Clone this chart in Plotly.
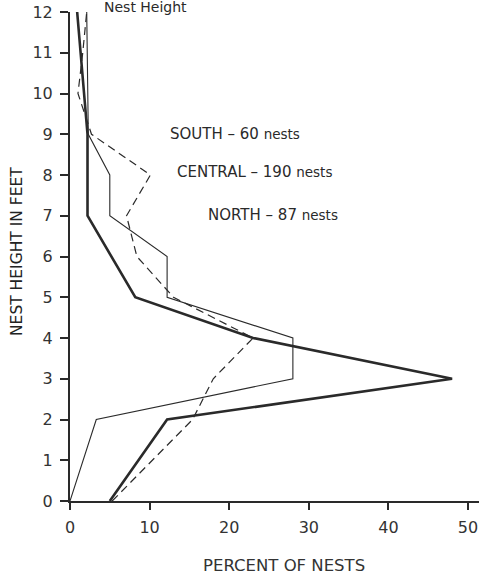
import plotly.graph_objects as go

# Nest height (feet) vs percent of nests
heights_thin = [0, 2, 3, 4, 5, 6, 7, 8, 9, 12]
pct_thin = [0, 3.3, 28, 28, 12.2, 12.2, 5, 5, 2.3, 2.1]

heights_thick = [0, 2, 3, 4, 5, 7, 9, 12]
pct_thick = [5, 12.2, 48, 23, 8.2, 2.2, 2.2, 0.9]

heights_dash = [0, 2, 3, 4, 5, 6, 7, 8, 9, 10, 11, 12]
pct_dash = [5.3, 15.4, 18, 23, 13, 8.4, 7.1, 10.1, 2.7, 1.0, 1.6, 2.1]

x_ticks = [0, 10, 20, 30, 40, 50]
y_ticks = list(range(0, 13))

legend_labels = [
    ("SOUTH – 60 ", "nests", 168, 134),
    ("CENTRAL – 190 ", "nests", 175, 172),
    ("NORTH – 87 ", "nests", 206, 215),
]

INK = "#2a2a2a"
FONT = "'DejaVu Sans', sans-serif"

fig = go.Figure()
fig.add_trace(go.Scatter(x=pct_thin, y=heights_thin, mode="lines",
                         line=dict(color=INK, width=1.1), name="thin"))
fig.add_trace(go.Scatter(x=pct_dash, y=heights_dash, mode="lines",
                         line=dict(color=INK, width=1.2, dash="8px,5px"), name="dashed"))
fig.add_trace(go.Scatter(x=pct_thick, y=heights_thick, mode="lines",
                         line=dict(color=INK, width=2.6), name="thick"))

W, H = 479, 575
L, R, T, B = 70, 0, 12, 74
pw, ph = W - L - R, H - T - B


def px_x(p):
    return (p - L) / pw


def px_y(p):
    return 1 - (p - T) / ph


for main, small, px, py in legend_labels:
    fig.add_annotation(
        x=px_x(px), y=px_y(py), xref="paper", yref="paper",
        xanchor="left", yanchor="middle", showarrow=False,
        text=f"{main}<span style='font-size:13.5px'>{small}</span>",
        font=dict(family=FONT, size=15, color=INK),
    )

fig.add_annotation(
    x=px_x(145), y=px_y(7), xref="paper", yref="paper",
    xanchor="center", yanchor="middle", showarrow=False,
    text="Nest Height", font=dict(family=FONT, size=14, color=INK),
)

fig.add_annotation(
    x=px_x(284), y=px_y(565), xref="paper", yref="paper",
    xanchor="center", yanchor="middle", showarrow=False,
    text="PERCENT OF NESTS", font=dict(family=FONT, size=16.5, color="#333"),
)

fig.add_annotation(
    x=px_x(17), y=px_y(252), xref="paper", yref="paper",
    xanchor="center", yanchor="middle", showarrow=False, textangle=-90,
    text="NEST HEIGHT IN FEET", font=dict(family=FONT, size=15.5, color="#222"),
)

fig.update_layout(
    width=W, height=H,
    margin=dict(l=L, r=R, t=T, b=B, autoexpand=False),
    paper_bgcolor="white", plot_bgcolor="white",
    showlegend=False,
    font=dict(family=FONT, color=INK),
    xaxis=dict(
        range=[0, pw / 7.96], tickvals=x_ticks, ticks="outside", ticklen=7,
        tickcolor=INK, tickwidth=1.5, showgrid=False, zeroline=False,
        showline=True, linecolor=INK, linewidth=2, automargin=False,
        tickfont=dict(size=16, color="#333"), ticklabelstandoff=4,
    ),
    yaxis=dict(
        range=[0, 12], tickvals=y_ticks, ticks="outside", ticklen=8,
        tickcolor=INK, tickwidth=1.5, showgrid=False, zeroline=False,
        showline=True, linecolor=INK, linewidth=2, automargin=False,
        tickfont=dict(size=16, color="#333"), ticklabelstandoff=4,
    ),
)

fig.write_html(
    "out.html",
    config={"displayModeBar": False},
    post_script="document.body.style.margin='0';document.body.style.overflow='hidden';",
)
